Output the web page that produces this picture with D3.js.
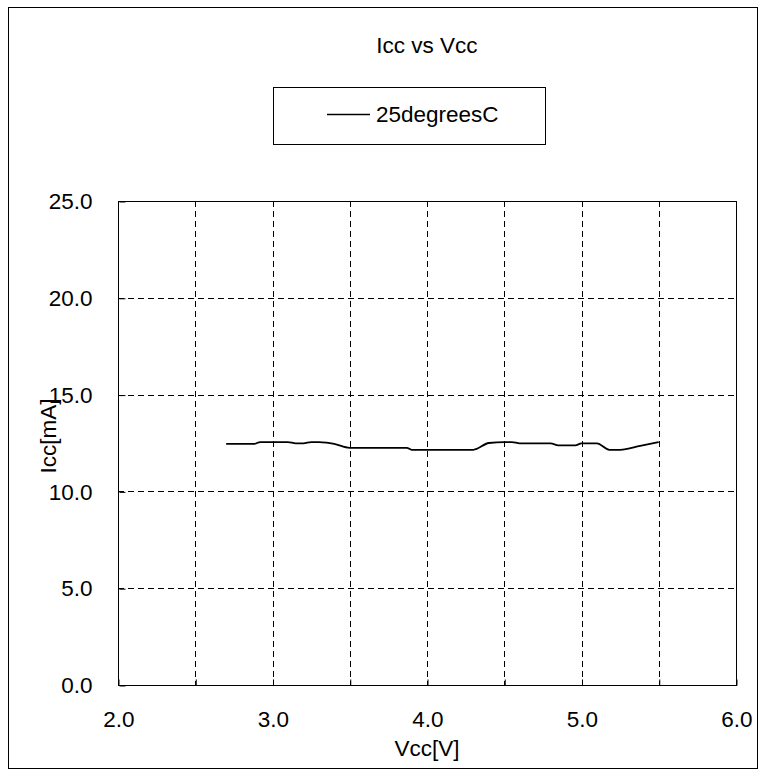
<!DOCTYPE html>
<html>
<head>
<meta charset="utf-8">
<script src="https://cdn.jsdelivr.net/npm/d3@7"></script>
<style>
  html, body { margin: 0; padding: 0; background: #fff; }
  svg { display: block; font-family: "Liberation Sans", Arial, sans-serif; }
</style>
</head>
<body>
<svg id="chart" width="765" height="776"></svg>
<script>
const chartTitle = "Icc vs Vcc";
const seriesName = "25degreesC";
const xLabel = "Vcc[V]";
const yLabel = "Icc[mA]";
const xTicks = [2.0, 2.5, 3.0, 3.5, 4.0, 4.5, 5.0, 5.5, 6.0];
const xTickLabels = [2.0, 3.0, 4.0, 5.0, 6.0];
const yTicks = [0, 5, 10, 15, 20, 25];
const vcc = [2.70, 2.80, 2.88, 2.92, 3.00, 3.10, 3.15, 3.20, 3.25, 3.30, 3.35, 3.40, 3.50, 3.60, 3.70, 3.80, 3.87, 3.90, 4.00, 4.10, 4.20, 4.30, 4.40, 4.50, 4.55, 4.60, 4.70, 4.80, 4.85, 4.96, 5.00, 5.10, 5.18, 5.25, 5.38, 5.50];
const icc = [12.45, 12.45, 12.45, 12.55, 12.55, 12.55, 12.48, 12.48, 12.55, 12.55, 12.52, 12.45, 12.25, 12.25, 12.25, 12.25, 12.25, 12.15, 12.15, 12.15, 12.15, 12.15, 12.50, 12.55, 12.55, 12.48, 12.48, 12.48, 12.38, 12.38, 12.48, 12.48, 12.15, 12.15, 12.35, 12.55];

const FS = 22.5;
const svg = d3.select("#chart");
const L = 118, R = 736, T = 201, B = 685;

// outer border
svg.append("rect").attr("x", 8.5).attr("y", 7.5).attr("width", 749).attr("height", 761)
  .attr("fill", "none").attr("stroke", "#000").attr("stroke-width", 1);

const x = d3.scaleLinear().domain([2, 6]).range([L, R]);
const y = d3.scaleLinear().domain([0, 25]).range([B, T]);

// title
svg.append("text").attr("x", 427).attr("y", 53).attr("text-anchor", "middle")
  .attr("font-size", FS).text(chartTitle);

// legend
svg.append("rect").attr("x", 273.5).attr("y", 87.5).attr("width", 272).attr("height", 57)
  .attr("fill", "#fff").attr("stroke", "#000").attr("stroke-width", 1);
svg.append("line").attr("x1", 327).attr("x2", 370).attr("y1", 114.5).attr("y2", 114.5)
  .attr("stroke", "#000").attr("stroke-width", 1.6);
svg.append("text").attr("x", 376).attr("y", 122).attr("font-size", FS).text(seriesName);

// grid
const g = svg.append("g");
xTicks.filter(d => d > 2 && d < 6).forEach(d => {
  g.append("line").attr("x1", Math.round(x(d)) + 0.5).attr("x2", Math.round(x(d)) + 0.5)
    .attr("y1", T).attr("y2", B).attr("stroke", "#000").attr("stroke-dasharray", "6,4").attr("stroke-width", 1);
});
yTicks.filter(d => d > 0 && d < 25).forEach(d => {
  g.append("line").attr("y1", Math.round(y(d)) + 0.5).attr("y2", Math.round(y(d)) + 0.5)
    .attr("x1", L).attr("x2", R).attr("stroke", "#000").attr("stroke-dasharray", "6,4").attr("stroke-width", 1);
});

// plot frame
svg.append("rect").attr("x", L + 0.5).attr("y", T + 0.5).attr("width", R - L).attr("height", B - T)
  .attr("fill", "none").attr("stroke", "#000").attr("stroke-width", 1);

// axes
const xAxis = d3.axisBottom(x).tickValues(xTicks).tickSizeInner(-6).tickSizeOuter(0).tickFormat(d => xTickLabels.includes(d) ? d.toFixed(1) : "").tickPadding(26);
const gx = svg.append("g").attr("transform", `translate(0.5,${B + 0.5})`).call(xAxis);
gx.select(".domain").remove();
gx.selectAll("text").attr("font-size", FS).attr("fill", "#000").attr("font-family", "Liberation Sans, Arial, sans-serif");

const yAxis = d3.axisLeft(y).tickValues(yTicks).tickSizeInner(-7).tickSizeOuter(0).tickFormat(d => d.toFixed(1)).tickPadding(26);
const gy = svg.append("g").attr("transform", `translate(${L + 0.5},0.5)`).call(yAxis);
gy.select(".domain").remove();
gy.selectAll(".tick line").attr("x1", 1);
gy.selectAll("text").attr("font-size", FS).attr("fill", "#000").attr("font-family", "Liberation Sans, Arial, sans-serif");

// axis titles
svg.append("text").attr("x", 427).attr("y", 756).attr("text-anchor", "middle").attr("font-size", FS).text(xLabel);
svg.append("text").attr("transform", "translate(56,436) rotate(-90)").attr("text-anchor", "middle")
  .attr("font-size", FS).text(yLabel);

// series
const line = d3.line().x((d, i) => x(vcc[i])).y(d => y(d)).curve(d3.curveMonotoneX);
svg.append("path").datum(icc).attr("d", line).attr("fill", "none").attr("stroke", "#000").attr("stroke-width", 1.8);
</script>
</body>
</html>
